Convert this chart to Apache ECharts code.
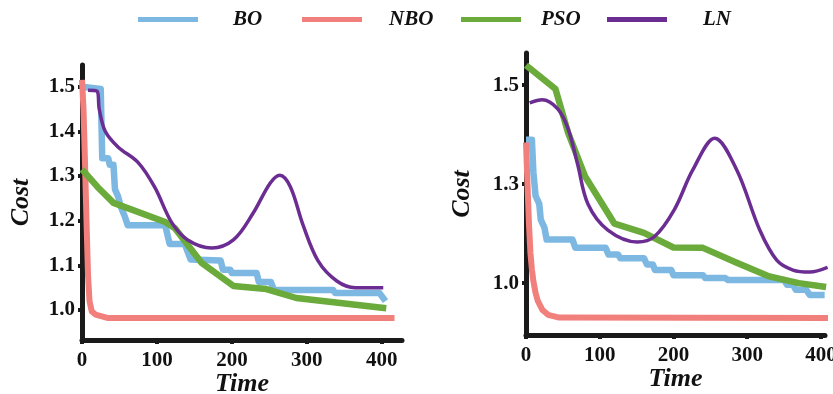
<!DOCTYPE html>
<html>
<head>
<meta charset="utf-8">
<script src="https://cdn.jsdelivr.net/npm/echarts@6/dist/echarts.min.js"></script>
<style>
html,body{margin:0;padding:0;background:#fff;}
#c{width:833px;height:394px;}
</style>
</head>
<body>
<div id="c"></div>
<script>
// ---------- data ----------
const seriesNames = ['BO', 'NBO', 'PSO', 'LN'];

// Left panel  [time, cost]
const leftBO = [[0,1.50],[25,1.495],[27,1.34],[35,1.34],[37,1.325],[42,1.325],[44,1.27],[48,1.255],[52,1.23],[57,1.21],[61,1.19],[111,1.19],[117,1.148],[137,1.148],[145,1.113],[185,1.111],[188,1.09],[198,1.09],[200,1.083],[233,1.083],[236,1.063],[252,1.063],[256,1.045],[335,1.045],[338,1.038],[397,1.038],[405,1.02]];
const leftNBO = [[0,1.515],[2,1.45],[4,1.33],[6,1.2],[8,1.08],[10,1.02],[13,0.997],[18,0.99],[35,0.982],[417,0.982]];
const leftPSO = [[0,1.315],[21,1.275],[42,1.24],[111,1.197],[124,1.183],[160,1.105],[202,1.054],[246,1.047],[286,1.027],[406,1.004]];
const leftLN = [[8,1.492],[20,1.49],[23,1.45],[31,1.40],[48,1.365],[75,1.33],[97,1.275],[120,1.195],[141,1.157],[173,1.139],[202,1.157],[228,1.216],[251,1.284],[264,1.302],[278,1.276],[295,1.19],[315,1.11],[340,1.065],[365,1.05],[402,1.05]];

// Right panel  [time, cost]
const rightBO = [[0,1.362],[8,1.362],[10,1.28],[13,1.22],[18,1.2],[20,1.16],[25,1.14],[28,1.11],[63,1.11],[67,1.089],[108,1.089],[112,1.072],[125,1.072],[128,1.063],[160,1.063],[164,1.047],[172,1.047],[175,1.033],[197,1.033],[200,1.02],[240,1.02],[243,1.013],[270,1.013],[274,1.008],[350,1.008],[354,0.996],[362,0.996],[366,0.983],[380,0.983],[385,0.97],[405,0.97]];
const rightNBO = [[0,1.355],[2,1.25],[4,1.15],[6,1.076],[8,1.035],[10,1.005],[13,0.975],[16,0.955],[22,0.933],[30,0.92],[45,0.913],[410,0.912]];
const rightPSO = [[0,1.55],[40,1.49],[57,1.38],[80,1.27],[120,1.15],[160,1.127],[200,1.09],[240,1.089],[285,1.052],[330,1.017],[370,1.0],[407,0.99]];
const rightLN = [[5,1.455],[22,1.463],[43,1.44],[57,1.39],[70,1.30],[84,1.2],[111,1.134],[151,1.104],[174,1.117],[201,1.185],[226,1.285],[256,1.366],[286,1.285],[317,1.134],[340,1.058],[362,1.033],[385,1.028],[409,1.04]];

// Ticks
const xTicks = [0, 100, 200, 300, 400];
const leftYTicks = [1.0, 1.1, 1.2, 1.3, 1.4, 1.5];
const leftYLabels = ['1.0', '1.1', '1.2', '1.3', '1.4', '1.5'];
const rightYTicks = [1.0, 1.25, 1.5];
const rightYLabels = ['1.0', '1.3', '1.5'];
const xName = 'Time';
const yName = 'Cost';

// ---------- styles ----------
const colors = {BO: '#7db8e3', NBO: '#f17f7b', PSO: '#6aab3b', LN: '#6b2d92'};
const widths = {BO: 6.5, NBO: 6, PSO: 6.5, LN: 3.5};
const FONT = 'Liberation Serif';

const chart = echarts.init(document.getElementById('c'));

function xAxisFor(gi, max, gap) {
  return {
    type: 'value', gridIndex: gi, min: 0, max: max,
    name: xName, nameLocation: 'middle', nameGap: gap, nameMoveOverlap: false,
    nameTextStyle: {fontFamily: FONT, fontWeight: 'bold', fontStyle: 'italic', fontSize: 26, color: '#111'},
    axisLine: {show: true, lineStyle: {color: '#1a1a1a', width: 5}},
    axisTick: {show: true, customValues: xTicks, length: 4, lineStyle: {color: '#1a1a1a', width: 4}},
    axisLabel: {customValues: xTicks, margin: 10, fontFamily: FONT, fontWeight: 'bold', fontSize: 21, color: '#111'},
    splitLine: {show: false}
  };
}
function yAxisFor(gi, min, max, ticks, labels, gap) {
  return {
    type: 'value', gridIndex: gi, min: min, max: max,
    name: yName, nameLocation: 'middle', nameGap: gap, nameRotate: 90, nameMoveOverlap: false,
    nameTextStyle: {fontFamily: FONT, fontWeight: 'bold', fontStyle: 'italic', fontSize: 26, color: '#111'},
    axisLine: {show: true, lineStyle: {color: '#1a1a1a', width: 5}},
    axisTick: {show: true, customValues: ticks, length: 4, lineStyle: {color: '#1a1a1a', width: 4}},
    axisLabel: {customValues: ticks, margin: 7, fontFamily: FONT, fontWeight: 'bold', fontSize: 21, color: '#111',
      formatter: function (v) {
        for (let i = 0; i < ticks.length; i++) if (Math.abs(ticks[i] - v) < 1e-9) return labels[i];
        return '';
      }},
    splitLine: {show: false}
  };
}

const leftData = {BO: leftBO, NBO: leftNBO, PSO: leftPSO, LN: leftLN};
const rightData = {BO: rightBO, NBO: rightNBO, PSO: rightPSO, LN: rightLN};
const series = [];
[[leftData, 0], [rightData, 1]].forEach(function (pair) {
  seriesNames.forEach(function (n) {
    series.push({
      name: n, type: 'line', xAxisIndex: pair[1], yAxisIndex: pair[1],
      data: pair[0][n], showSymbol: false, symbol: 'none', clip: false,
      smooth: n === 'LN' ? 0.35 : false,
      lineStyle: {color: colors[n], width: widths[n], join: 'round'},
      itemStyle: {color: colors[n]}
    });
  });
});

const legendPos = [
  {name: 'BO', left: 133, pad: 30},
  {name: 'NBO', left: 297, pad: 22},
  {name: 'PSO', left: 456, pad: 15},
  {name: 'LN', left: 602, pad: 31}
];
const legends = legendPos.map(function (l) {
  return {
    data: [l.name], left: l.left, top: 4, icon: 'rect', itemWidth: 60, itemHeight: 5,
    selectedMode: false,
    textStyle: {fontFamily: FONT, fontWeight: 'bold', fontStyle: 'italic', fontSize: 21, color: '#111', padding: [0, 0, 0, l.pad]}
  };
});

chart.setOption({
  animation: false,
  backgroundColor: '#fff',
  legend: legends,
  grid: [
    {left: 82, top: 65, width: 320, height: 275, outerBoundsMode: 'none', containLabel: false},
    {left: 526, top: 53, width: 299, height: 282, outerBoundsMode: 'none', containLabel: false}
  ],
  xAxis: [xAxisFor(0, 427, 31), xAxisFor(1, 405.5, 31)],
  yAxis: [
    yAxisFor(0, 0.933, 1.5485, leftYTicks, leftYLabels, 48),
    yAxisFor(1, 0.869, 1.581, rightYTicks, rightYLabels, 51)
  ],
  series: series
});
</script>
</body>
</html>
